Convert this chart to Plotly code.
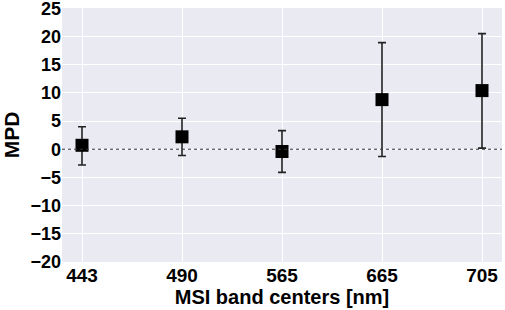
import plotly.graph_objects as go

bands = ["443", "490", "565", "665", "705"]
mpd = [0.7, 2.2, -0.4, 8.8, 10.4]
err_plus = [3.3, 3.3, 3.7, 10.1, 10.1]
err_minus = [3.5, 3.3, 3.7, 10.1, 10.2]
y_ticks = [-20, -15, -10, -5, 0, 5, 10, 15, 20, 25]
y_labels = ["\u221220", "\u221215", "\u221210", "\u22125", "0", "5", "10", "15", "20", "25"]

fig = go.Figure()
fig.add_trace(go.Scatter(
    x=bands, y=mpd, mode="markers",
    marker=dict(symbol="square", size=13, color="black"),
    error_y=dict(type="data", symmetric=False, array=err_plus, arrayminus=err_minus,
                 color="#222222", thickness=1.6, width=4),
    showlegend=False,
))
fig.add_shape(type="line", xref="paper", x0=0, x1=1, yref="y", y0=0, y1=0,
              line=dict(color="#333333", width=1, dash="dot"), layer="above")

font = "Liberation Sans, Arial, sans-serif"
fig.update_layout(
    width=505, height=310,
    margin=dict(l=62, r=3, t=8, b=48),
    paper_bgcolor="white", plot_bgcolor="#EAEAF2",
    font=dict(family=font, color="black"),
    xaxis=dict(type="category", range=[-0.2, 4.2], showgrid=True, gridcolor="white",
               gridwidth=1, tickfont=dict(size=19, family=font, weight="bold"),
               tickvals=bands, ticktext=["<b>%s</b>" % b for b in bands],
               title=dict(text="<b>MSI band centers [nm]</b>", font=dict(size=20), standoff=3),
               zeroline=False, ticks="", automargin=False, ticklabeloverflow="allow"),
    yaxis=dict(range=[-20, 25.05], tickvals=y_ticks,
               ticktext=["<b>%s</b>" % t for t in y_labels],
               showgrid=True, gridcolor="white",
               gridwidth=1, tickfont=dict(size=18, family=font, weight="bold"),
               title=dict(text="<b>MPD</b>", font=dict(size=21), standoff=5),
               zeroline=False, ticks="", automargin=False, ticklabeloverflow="allow"),
)
fig.write_html("out.html", config={"displayModeBar": False},
               post_script="document.body.style.margin='0';document.body.style.overflow='hidden';")
